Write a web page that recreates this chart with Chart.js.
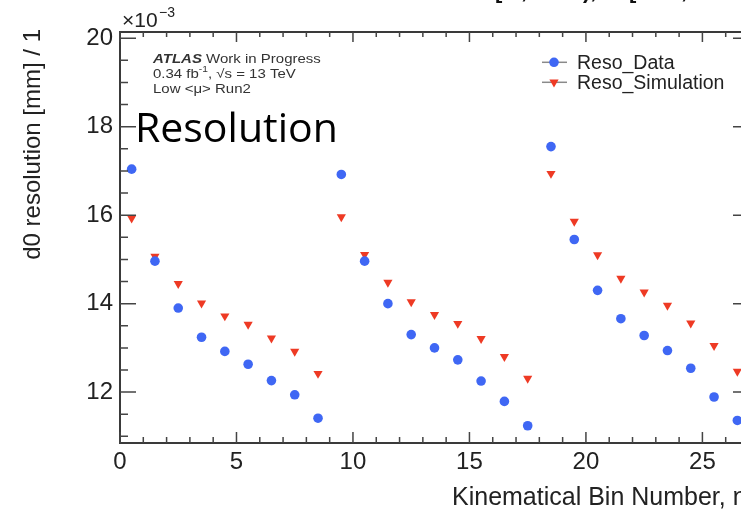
<!DOCTYPE html>
<html><head><meta charset="utf-8">
<script src="https://cdn.jsdelivr.net/npm/chart.js@4.4.0/dist/chart.umd.min.js"></script>
<style>
html,body{margin:0;padding:0;background:#fff;overflow:hidden;width:741px;height:518px}
#wrap{position:absolute;left:0;top:0;width:770px;height:518px}
</style>
</head><body>
<div id="wrap"><canvas id="c" width="770" height="518"></canvas></div>
<script>
// ---- data (values in units of 10^-3 mm) ----
const binCenters = [0.5,1.5,2.5,3.5,4.5,5.5,6.5,7.5,8.5,9.5,10.5,11.5,12.5,13.5,14.5,15.5,16.5,17.5,18.5,19.5,20.5,21.5,22.5,23.5,24.5,25.5,26.5];
const resoData = [17.04,14.96,13.90,13.24,12.92,12.63,12.26,11.94,11.41,16.92,14.96,14.00,13.30,13.00,12.73,12.25,11.79,11.24,17.55,15.45,14.30,13.66,13.28,12.94,12.54,11.89,11.36];
const resoSimulation = [15.93,15.07,14.45,14.01,13.72,13.53,13.22,12.92,12.42,15.96,15.11,14.48,14.04,13.75,13.55,13.21,12.80,12.31,16.94,15.86,15.10,14.57,14.26,13.96,13.56,13.05,12.47];
const xTickLabels = [0,5,10,15,20,25];
const yTickLabels = [12,14,16,18,20];
const seriesNames = ['Reso_Data','Reso_Simulation'];
const seriesColors = ['#3f67f4','#ee3a24'];

const SANS = '"Liberation Sans", Arial, Helvetica, sans-serif';

function near(v, list){ return list.find(t => Math.abs(v - t) < 1e-6); }

const decor = {
  id: 'decor',
  afterDraw(chart){
    const ctx = chart.ctx, a = chart.chartArea;
    const xs = chart.scales.x, ys = chart.scales.y;
    ctx.save();
    // frame
    ctx.strokeStyle = '#3a3a3a';
    ctx.lineWidth = 2;
    ctx.strokeRect(a.left, a.top, a.right - a.left, a.bottom - a.top);
    // inward ticks
    ctx.lineWidth = 1.5;
    ctx.strokeStyle = '#444';
    ctx.beginPath();
    xs.ticks.forEach(t => {
      const v = t.value;
      if (Math.abs(v - Math.round(v)) > 1e-6) return;
      const px = xs.getPixelForValue(v);
      const major = Math.round(v) % 5 === 0;
      const len = major ? 11 : 6;
      ctx.moveTo(px, a.bottom); ctx.lineTo(px, a.bottom - len);
      ctx.moveTo(px, a.top); ctx.lineTo(px, a.top + (major ? 10 : 5));
    });
    ys.ticks.forEach(t => {
      const v = t.value;
      if (Math.abs(v*2 - Math.round(v*2)) > 1e-6) return;
      const py = ys.getPixelForValue(v);
      const major = near(v, yTickLabels) !== undefined;
      const len = major ? 16 : 8;
      ctx.moveTo(a.left, py); ctx.lineTo(a.left + len, py);
      ctx.moveTo(a.right, py); ctx.lineTo(a.right - len, py);
    });
    ctx.stroke();

    // exponent label
    ctx.fillStyle = '#222';
    ctx.textBaseline = 'alphabetic';
    ctx.textAlign = 'left';
    ctx.font = '21px ' + SANS;
    ctx.fillText('\u00d710', 122, 27);
    ctx.font = '14px ' + SANS;
    ctx.fillText('\u22123', 159, 17);

    // y title
    ctx.save();
    ctx.translate(40, 29);
    ctx.rotate(-Math.PI/2);
    ctx.textAlign = 'right';
    ctx.font = '24px ' + SANS;
    ctx.fillText('d0 resolution [mm] / 1', 0, 0);
    ctx.restore();

    // x title
    ctx.textAlign = 'left';
    ctx.font = '25px ' + SANS;
    ctx.fillText('Kinematical Bin Number, \u03b7', 452, 505);

    // title fragment (cut by the top edge)
    ctx.font = 'bold 22px ' + SANS;
    ctx.fillStyle = '#111';
    ctx.fillText('[', 495, -2);
    ctx.fillText(',', 521, -2);
    ctx.fillText('),', 583, -2);
    ctx.fillText('[', 629, -2);
    ctx.fillText(',', 681, -2);

    // ATLAS label
    ctx.save();
    ctx.translate(153, 0);
    ctx.scale(1.2, 1);
    ctx.fillStyle = '#333';
    ctx.font = 'italic bold 12.5px ' + SANS;
    ctx.fillText('ATLAS', 0, 63);
    let w = ctx.measureText('ATLAS ').width;
    ctx.font = '12.5px ' + SANS;
    ctx.fillText('Work in Progress', w, 63);
    ctx.fillText('0.34 fb', 0, 78);
    w = ctx.measureText('0.34 fb').width;
    ctx.font = '8.5px ' + SANS;
    ctx.fillText('-1', w, 72);
    const w2 = w + ctx.measureText('-1').width;
    ctx.font = '12.5px ' + SANS;
    ctx.fillText(', \u221As = 13 TeV', w2, 78);
    ctx.fillText('Low <\u03bc> Run2', 0, 92.7);
    ctx.restore();

    // overlay text
    ctx.fillStyle = '#000';
    ctx.font = '41px "Open Sans", sans-serif';
    ctx.fillText('Resolution', 135, 141.7);

    // legend
    const lx = 554, ly = [62.3, 82.3];
    chart.data.datasets.forEach((ds, i) => {
      const y = ly[i];
      ctx.strokeStyle = '#8a8a8a';
      ctx.lineWidth = 1.5;
      ctx.beginPath(); ctx.moveTo(542, y); ctx.lineTo(567, y); ctx.stroke();
      ctx.fillStyle = ds.backgroundColor;
      ctx.beginPath();
      if (i === 0) {
        ctx.arc(lx, y, 4.8, 0, Math.PI*2);
      } else {
        ctx.moveTo(lx - 4.6, y - 2.7); ctx.lineTo(lx + 4.6, y - 2.7); ctx.lineTo(lx, y + 5.3);
        ctx.closePath();
      }
      ctx.fill();
      ctx.fillStyle = '#222';
      ctx.font = '19.5px ' + SANS;
      ctx.fillText(ds.label, 577, y + 6.5);
    });
    ctx.restore();
  }
};

const chart = new Chart(document.getElementById('c'), {
  type: 'scatter',
  data: {
    datasets: [
      { label: seriesNames[0], data: binCenters.map((x,i)=>({x, y: resoData[i]})),
        backgroundColor: seriesColors[0], borderColor: seriesColors[0], pointStyle: 'circle',
        pointRadius: 4.8, pointBorderWidth: 0, showLine: false },
      { label: seriesNames[1], data: binCenters.map((x,i)=>({x, y: resoSimulation[i]})),
        backgroundColor: seriesColors[1], borderColor: seriesColors[1], pointStyle: 'triangle',
        rotation: 180, pointRadius: 5.3, pointBorderWidth: 0, showLine: false }
    ]
  },
  options: {
    responsive: false, animation: false, devicePixelRatio: 1,
    layout: { padding: { left: 0, right: 21, top: 32, bottom: 0 } },
    plugins: { legend: { display: false }, tooltip: { enabled: false } },
    scales: {
      x: {
        type: 'linear', min: 0, max: 27,
        grid: { display: false, drawTicks: false },
        border: { display: false },
        ticks: {
          stepSize: 1, autoSkip: false, maxRotation: 0, padding: 5, includeBounds: false,
          color: '#222', font: { family: SANS, size: 24 },
          callback: v => { const t = near(v, xTickLabels); return t === undefined ? '' : String(t); }
        },
        afterFit: s => { s.height = 75; }
      },
      y: {
        type: 'linear', min: 10.85, max: 20.14,
        grid: { display: false, drawTicks: false },
        border: { display: false },
        ticks: {
          stepSize: 0.5, autoSkip: false, padding: 7, includeBounds: false,
          color: '#222', font: { family: SANS, size: 24 },
          callback: v => { const t = near(v, yTickLabels); return t === undefined ? '' : String(t); }
        },
        afterFit: s => { s.width = 120; }
      }
    }
  },
  plugins: [decor]
});
</script>
</body></html>
